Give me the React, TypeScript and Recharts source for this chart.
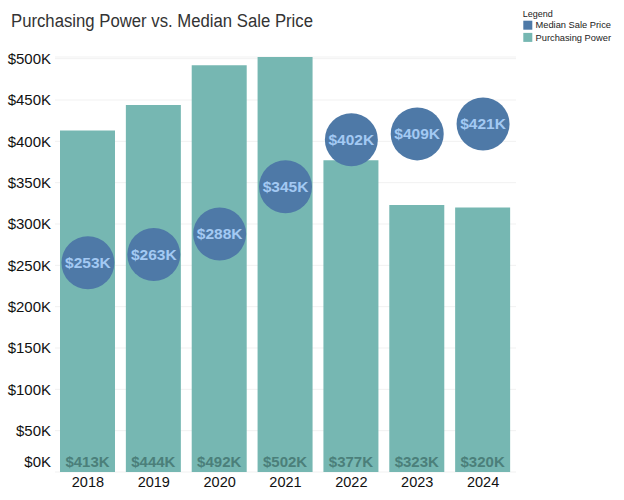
import React from 'react';
import { ComposedChart, Bar, Scatter, XAxis, YAxis, CartesianGrid, LabelList } from 'recharts';

const years = ['2018', '2019', '2020', '2021', '2022', '2023', '2024'];
const purchasingPower = [413, 444, 492, 502, 377, 323, 320]; // $K
const medianSalePrice = [253, 263, 288, 345, 402, 409, 421]; // $K
const yTicks = [0, 50, 100, 150, 200, 250, 300, 350, 400, 450, 500];
const legendNames = ['Median Sale Price', 'Purchasing Power'];
const legendColors = ['#4e79a7', '#76b7b2'];
const title = 'Purchasing Power vs. Median Sale Price';

const data = years.map((y, i) => ({ year: y, pp: purchasingPower[i], msp: medianSalePrice[i] }));

const FONT = '"Liberation Sans", Arial, sans-serif';
const fmt = (v: number) => `$${v}K`;

const YTick = (props: any) => {
  const { x, y, payload } = props;
  const shift = payload.value === 0 ? -10 : 0;
  return (
    <text x={x} y={y + shift} dy="0.355em" textAnchor="end" fontSize={15} fill="#111" fontFamily={FONT}>
      {fmt(payload.value)}
    </text>
  );
};

const BarLabel = (props: any) => {
  const { x, y, width, height, value } = props;
  return (
    <text x={x + width / 2} y={y + height - 5} textAnchor="middle" fontSize={15} fontWeight="bold" fill="#4b7f7a" fontFamily={FONT}>
      {fmt(value)}
    </text>
  );
};

const Bubble = (props: any) => {
  const { cx, cy, payload } = props;
  return (
    <g>
      <circle cx={cx} cy={cy} r={26.5} fill="#4e79a7" />
      <text x={cx} y={cy} dy="0.355em" textAnchor="middle" fontSize={15.5} fontWeight="bold" fill="#a3c9f3" fontFamily={FONT}>
        {fmt(payload.msp)}
      </text>
    </g>
  );
};

export default function App() {
  return (
    <div style={{ position: 'absolute', left: 0, top: 0, width: 624, height: 500, background: '#fff', fontFamily: FONT }}>
      <ComposedChart
        width={624}
        height={500}
        data={data}
        margin={{ top: 57, right: 108, left: 0, bottom: 0 }}
        barCategoryGap={5}
      >
        <CartesianGrid vertical={false} stroke="#f1f1f1" />
        <XAxis
          dataKey="year"
          axisLine={false}
          tickLine={false}
          tickSize={0}
          tickMargin={5}
          height={28}
          tick={{ fontSize: 14.5, fill: '#111', fontFamily: FONT }}
        />
        <YAxis
          type="number"
          domain={[0, 500]}
          ticks={yTicks}
          axisLine={false}
          tickLine={false}
          tickSize={0}
          tickMargin={4}
          width={55}
          interval={0}
          tick={<YTick />}
        />
        <Bar dataKey="pp" fill="#76b7b2" barSize={55} isAnimationActive={false}>
          <LabelList dataKey="pp" content={<BarLabel />} />
        </Bar>
        <Scatter dataKey="msp" shape={<Bubble />} isAnimationActive={false} />
      </ComposedChart>
      <svg width={624} height={60} style={{ position: 'absolute', left: 0, top: 0, pointerEvents: 'none' }}>
        <text x={11} y={26.7} fontSize={18} fill="#333" fontFamily={FONT} textLength={302} lengthAdjust="spacingAndGlyphs">
          {title}
        </text>
        <text x={522.7} y={17.3} fontSize={9} fill="#222" fontFamily={FONT}>Legend</text>
        {legendNames.map((n, i) => (
          <g key={n}>
            <rect x={523.3} y={20.7 + i * 12.2} width={9} height={9} fill={legendColors[i]} />
            <text x={535.5} y={28.3 + i * 12.2} fontSize={9} fill="#222" fontFamily={FONT} textLength={75.5} lengthAdjust="spacingAndGlyphs">
              {n}
            </text>
          </g>
        ))}
      </svg>
    </div>
  );
}
